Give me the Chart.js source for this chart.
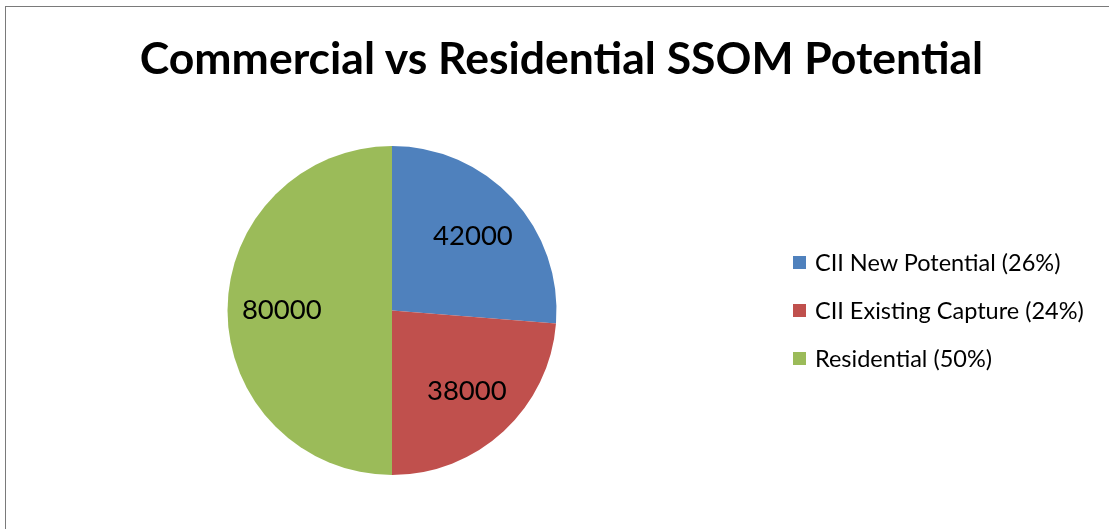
<!DOCTYPE html>
<html>
<head>
<meta charset="utf-8">
<script src="https://cdn.jsdelivr.net/npm/chart.js@4.4.1/dist/chart.umd.min.js"></script>
<style>
  html, body { margin: 0; padding: 0; background: #fff; overflow: hidden; }
  #wrap { position: relative; width: 1109px; height: 529px; }
  #frame { position: absolute; left: 5px; top: 6px; width: 1200px; height: 600px;
           border-left: 1px solid #7a7a7a; border-top: 1px solid #7a7a7a; box-sizing: border-box; }
  #title { position: absolute; left: 0; width: 1123px; top: 27px; text-align: center;
           font-family: Lato, "Open Sans", sans-serif; font-weight: bold; font-size: 44.5px; color: #000; line-height: 60px; white-space: nowrap; }
  #legend { position: absolute; left: 793px; top: 246px; font-family: Lato, "Open Sans", sans-serif; font-size: 23.5px; color: #000; }
  .item { height: 48px; display: flex; align-items: flex-start; white-space: nowrap; }
  .sw { width: 13px; height: 13px; margin-top: 10px; margin-right: 9px; flex: none; }
  .lbl { line-height: 34px; margin-top: -1px; }
  canvas { position: absolute; left: 0; top: 0; }
</style>
</head>
<body>
<div id="wrap">
  <canvas id="c" width="1109" height="529"></canvas>
  <div id="frame"></div>
  <div id="title"></div>
  <div id="legend"></div>
</div>
<script>
const chartTitle = "Commercial vs Residential SSOM Potential";
const categories = ["CII New Potential", "CII Existing Capture", "Residential"];
const values = [42000, 38000, 80000];
const legendLabels = ["CII New Potential (26%)", "CII Existing Capture (24%)", "Residential (50%)"];
const colors = ["#4F81BD", "#C0504D", "#9BBB59"];

document.getElementById('title').textContent = chartTitle;
const legendEl = document.getElementById('legend');
legendLabels.forEach((t, i) => {
  const row = document.createElement('div'); row.className = 'item';
  const sw = document.createElement('div'); sw.className = 'sw'; sw.style.background = colors[i];
  const lb = document.createElement('div'); lb.className = 'lbl'; lb.textContent = t;
  row.appendChild(sw); row.appendChild(lb); legendEl.appendChild(row);
});

const valueLabels = {
  id: 'valueLabels',
  afterDatasetsDraw(chart) {
    const ctx = chart.ctx;
    const meta = chart.getDatasetMeta(0);
    ctx.save();
    ctx.font = '27.5px Lato, "Open Sans", sans-serif';
    ctx.fillStyle = '#000';
    ctx.textAlign = 'center';
    ctx.textBaseline = 'middle';
    meta.data.forEach((arc, i) => {
      const p = arc.getProps(['x', 'y', 'startAngle', 'endAngle', 'outerRadius'], true);
      const mid = (p.startAngle + p.endAngle) / 2;
      const r = p.outerRadius * 0.67;
      ctx.fillText(String(chart.data.datasets[0].data[i]), p.x + Math.cos(mid) * r, p.y + Math.sin(mid) * r);
    });
    ctx.restore();
  }
};

new Chart(document.getElementById('c'), {
  type: 'pie',
  data: {
    labels: categories,
    datasets: [{ data: values, backgroundColor: colors, borderWidth: 0, hoverOffset: 0 }]
  },
  options: {
    responsive: false,
    animation: false,
    layout: { padding: { left: 227.5, right: 552.5, top: 146, bottom: 54 } },
    plugins: { legend: { display: false }, title: { display: false }, tooltip: { enabled: false } }
  },
  plugins: [valueLabels]
});
</script>
</body>
</html>
